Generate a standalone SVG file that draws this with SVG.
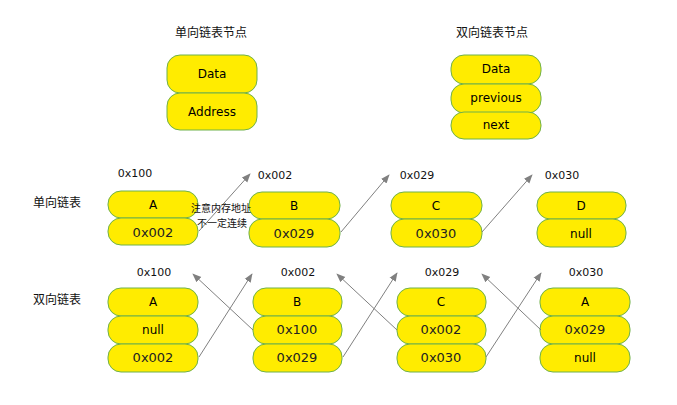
<svg xmlns="http://www.w3.org/2000/svg" width="677" height="405" viewBox="0 0 677 405">
<style>
.b{fill:#ffec00;stroke:#6fb14a;stroke-width:1}
.t{font-family:"DejaVu Sans","Liberation Sans",sans-serif;font-size:12px;fill:#000;text-anchor:middle}
.v{font-family:"DejaVu Sans","Liberation Sans",sans-serif;font-size:13px;fill:#222;text-anchor:middle}
.a{font-family:"DejaVu Sans","Liberation Sans",sans-serif;font-size:11px;fill:#111;text-anchor:middle}
.c{font-family:"Noto Sans CJK SC",sans-serif;font-size:12px;fill:#111;text-anchor:middle}
.n{font-family:"Noto Sans CJK SC",sans-serif;font-size:10px;fill:#111;text-anchor:middle}
.l{stroke:#808080;stroke-width:1;fill:none;marker-end:url(#ah)}
</style>
<defs>
<marker id="ah" viewBox="0 0 10 10" refX="9" refY="5" markerWidth="9" markerHeight="9" orient="auto" markerUnits="userSpaceOnUse">
<path d="M0,1 L10,5 L0,9 Z" fill="#808080"/>
</marker>
</defs>
<rect width="677" height="405" fill="#fff"/>
<text class="c" x="211" y="37">单向链表节点</text>
<text class="c" x="492" y="37">双向链表节点</text>
<text class="c" x="57" y="207">单向链表</text>
<text class="c" x="57" y="304">双向链表</text>

<g id="snode">
<rect class="b" x="167" y="55" width="90" height="38" rx="13"/>
<rect class="b" x="167" y="93" width="90" height="37" rx="13"/>
<text class="t" x="212" y="78">Data</text>
<text class="t" x="212" y="116">Address</text>
</g>
<g id="dnode">
<rect class="b" x="451" y="55" width="90" height="29" rx="13"/>
<rect class="b" x="451" y="84" width="90" height="29" rx="13"/>
<rect class="b" x="451" y="112" width="90" height="27" rx="13"/>
<text class="t" x="496" y="73">Data</text>
<text class="t" x="496" y="102">previous</text>
<text class="t" x="496" y="129">next</text>
</g>

<g id="sA">
<text class="a" x="135" y="177">0x100</text>
<rect class="b" x="108" y="191" width="90" height="27" rx="13"/>
<rect class="b" x="108" y="218" width="90" height="27" rx="13"/>
<text class="t" x="153" y="209">A</text>
<text class="v" x="153" y="237">0x002</text>
</g>
<g id="sB">
<text class="a" x="275" y="179">0x002</text>
<rect class="b" x="249" y="192" width="91" height="27" rx="13"/>
<rect class="b" x="249" y="219" width="91" height="28" rx="13"/>
<text class="t" x="294" y="210">B</text>
<text class="v" x="294" y="238">0x029</text>
</g>
<g id="sC">
<text class="a" x="417" y="179">0x029</text>
<rect class="b" x="391" y="192" width="91" height="27" rx="13"/>
<rect class="b" x="391" y="219" width="91" height="28" rx="13"/>
<text class="t" x="436" y="210">C</text>
<text class="v" x="436" y="238">0x030</text>
</g>
<g id="sD">
<text class="a" x="562" y="179">0x030</text>
<rect class="b" x="537" y="192" width="89" height="27" rx="13"/>
<rect class="b" x="537" y="219" width="89" height="28" rx="13"/>
<text class="t" x="581" y="210">D</text>
<text class="t" x="581" y="238">null</text>
</g>

<g id="dA">
<text class="a" x="154" y="276">0x100</text>
<rect class="b" x="108" y="288" width="90" height="28" rx="13"/>
<rect class="b" x="108" y="316" width="90" height="28" rx="13"/>
<rect class="b" x="108" y="344" width="90" height="28" rx="13"/>
<text class="t" x="153" y="306">A</text>
<text class="t" x="153" y="334">null</text>
<text class="v" x="153" y="362">0x002</text>
</g>
<g id="dB">
<text class="a" x="298" y="276">0x002</text>
<rect class="b" x="253" y="288" width="89" height="28" rx="13"/>
<rect class="b" x="253" y="316" width="89" height="28" rx="13"/>
<rect class="b" x="253" y="344" width="89" height="28" rx="13"/>
<text class="t" x="297" y="306">B</text>
<text class="v" x="297" y="334">0x100</text>
<text class="v" x="297" y="362">0x029</text>
</g>
<g id="dC">
<text class="a" x="442" y="276">0x029</text>
<rect class="b" x="397" y="288" width="89" height="28" rx="13"/>
<rect class="b" x="397" y="316" width="89" height="28" rx="13"/>
<rect class="b" x="397" y="344" width="89" height="28" rx="13"/>
<text class="t" x="441" y="306">C</text>
<text class="v" x="441" y="334">0x002</text>
<text class="v" x="441" y="362">0x030</text>
</g>
<g id="dA2">
<text class="a" x="586" y="276">0x030</text>
<rect class="b" x="540" y="288" width="90" height="28" rx="13"/>
<rect class="b" x="540" y="316" width="90" height="28" rx="13"/>
<rect class="b" x="540" y="344" width="90" height="28" rx="13"/>
<text class="t" x="585" y="306">A</text>
<text class="v" x="585" y="334">0x029</text>
<text class="t" x="585" y="362">null</text>
</g>

<g id="connectors">
<line class="l" x1="199" y1="231" x2="250" y2="174"/>
<line class="l" x1="341" y1="232" x2="389" y2="175"/>
<line class="l" x1="482" y1="232" x2="532" y2="175"/>
<line class="l" x1="199" y1="357" x2="252" y2="274"/>
<line class="l" x1="253" y1="330" x2="193" y2="274"/>
<line class="l" x1="343" y1="357" x2="397" y2="273"/>
<line class="l" x1="397" y1="330" x2="337" y2="274"/>
<line class="l" x1="486" y1="357" x2="541" y2="273"/>
<line class="l" x1="541" y1="330" x2="482" y2="274"/>
</g>
<g id="note">
<text class="n" x="221" y="212">注意内存地址</text>
<text class="n" x="222" y="227">不一定连续</text>
</g>
</svg>
